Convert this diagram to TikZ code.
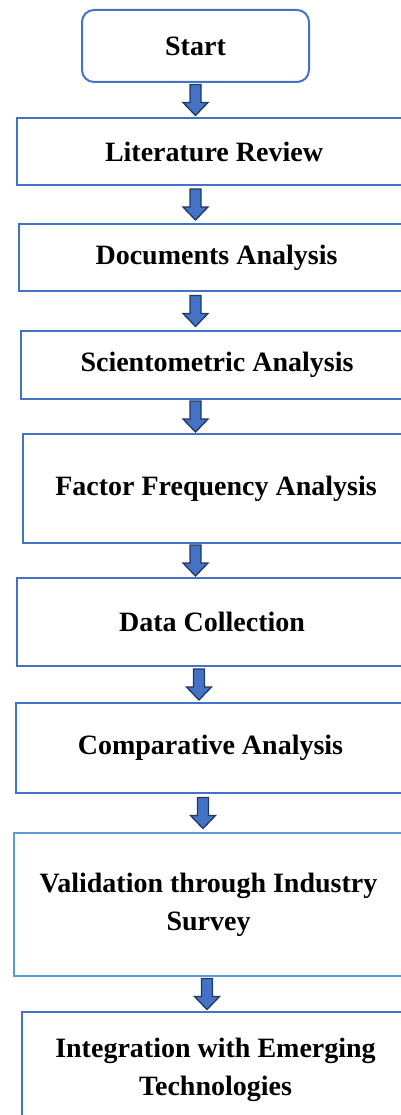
\documentclass[tikz,border=0pt]{standalone}
\usepackage{fontspec}
\setmainfont{Liberation Serif}
\usepackage{xcolor}
\usetikzlibrary{calc, positioning}

\definecolor{boxblue}{HTML}{4472C4}
\definecolor{lightblue}{HTML}{5B9BD5}
\definecolor{arrowline}{HTML}{203864}
\definecolor{arrowfill}{HTML}{4472C4}

\begin{document}
\begin{tikzpicture}[x=1pt, y=-1pt,
    stage/.style={rectangle, draw=boxblue, line width=2pt, fill=white, align=center, inner sep=0pt,
        font=\fontsize{28}{38}\selectfont\bfseries},
    startbox/.style={stage, rounded corners=12pt},
    blockarrow/.style={draw=arrowline, fill=arrowfill, line width=1.3pt, line join=miter,
        to path={let \p1=(\tikztostart), \p2=(\tikztotarget), \p3=($(\p1)!.5!(\p2)$) in
            (\x1-5.5pt+#1,\y3+15.5pt) -- (\x1+5.5pt+#1,\y3+15.5pt) -- (\x1+5.5pt+#1,\y3-2.5pt)
            -- (\x1+12.5pt+#1,\y3-2.5pt) -- (\x1+#1,\y3-15.5pt) -- (\x1-12.5pt+#1,\y3-2.5pt)
            -- (\x1-5.5pt+#1,\y3-2.5pt) -- cycle}},
    blockarrow/.default=0pt]

    \useasboundingbox (0,0) rectangle (401,1115);
    \clip (0,0) rectangle (401,1115);

    \node[startbox, minimum width=227pt, minimum height=72pt] (start) at (195.5,46) {Start};
    \node[stage, minimum width=394pt, minimum height=67pt] (lit) at (214,151.5) {Literature Review};
    \node[stage, minimum width=395pt, minimum height=67pt] (doc) at (216.5,257.5) {Documents Analysis};
    \node[stage, minimum width=392pt, minimum height=68pt] (sci) at (217,365) {Scientometric Analysis};
    \node[stage, minimum width=386pt, minimum height=109pt] (fac) at (216,488.5) {Factor Frequency Analysis};
    \node[stage, minimum width=390pt, minimum height=88pt] (data) at (212,622) {Data Collection};
    \node[stage, minimum width=389pt, minimum height=90pt] (comp) at (210.5,748) {Comparative Analysis};
    \node[stage, draw=lightblue, minimum width=389pt, minimum height=143pt] (val) at (208.5,904.5) {Validation through Industry\\Survey};
    \node[stage, minimum width=387pt, minimum height=116pt] (int) at (215.5,1070) {Integration with Emerging\\Technologies};

    % arrows between the steps
    \draw[blockarrow] (start.south) to (lit.north);
    \draw[blockarrow] (lit.south -| start.south) to (doc.north);
    \draw[blockarrow] (doc.south -| start.south) to (sci.north);
    \draw[blockarrow] (sci.south -| start.south) to (fac.north);
    \draw[blockarrow] (fac.south -| start.south) to (data.north);
    \draw[blockarrow=3.5pt] (data.south -| start.south) to (comp.north);
    \draw[blockarrow=7.5pt] (comp.south -| start.south) to (val.north);
    \draw[blockarrow=11.5pt] (val.south -| start.south) to (int.north);

\end{tikzpicture}
\end{document}
